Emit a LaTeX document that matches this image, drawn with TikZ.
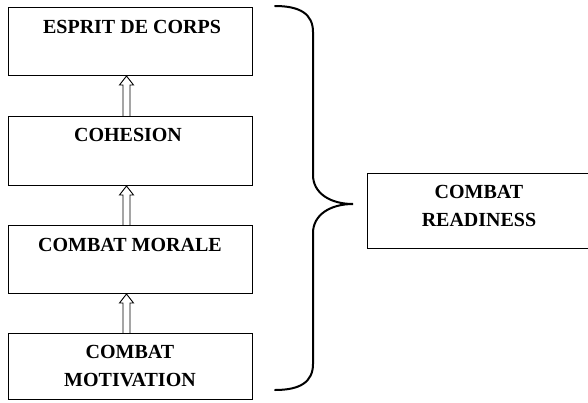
\documentclass[tikz,border=0pt]{standalone}
\usepackage{fontspec}
\setmainfont{Liberation Serif}
\usetikzlibrary{calc}
\tikzset{
  boxn/.style={draw, line width=1pt, rectangle, inner sep=0pt, anchor=north west},
  lbl/.style={font=\fontsize{20}{28}\selectfont\bfseries, align=center, inner sep=0pt},
  hollowarrow/.style={line width=0.9pt, line join=miter,
    to path={let \p1=(\tikztostart), \p2=(\tikztotarget) in
      ({\x1-3.5pt},{\y1}) -- ({\x1-3.5pt},{\y2-9pt}) -- ({\x1-7pt},{\y2-9pt}) -- ({\x1},{\y2})
      -- ({\x1+7pt},{\y2-9pt}) -- ({\x1+3.5pt},{\y2-9pt}) -- ({\x1+3.5pt},{\y1})}},
  bracepath/.style={line width=2pt, line cap=round}
}
\begin{document}
\begin{tikzpicture}[x=1pt,y=-1pt]
\useasboundingbox (0,0) rectangle (588,402);
\node[boxn, minimum width=244pt, minimum height=68pt] (b1) at (8,7) {};
\node[boxn, minimum width=244pt, minimum height=69pt] (b2) at (8,116) {};
\node[boxn, minimum width=244pt, minimum height=68pt] (b3) at (8,225) {};
\node[boxn, minimum width=244pt, minimum height=66pt] (b4) at (8,333) {};
\node[boxn, minimum width=220.5pt, minimum height=75pt] (r) at (367,173) {};
\node[lbl] (t1) at (132,27) {ESPRIT DE CORPS};
\node[lbl] (t2) at (128,135) {COHESION};
\node[lbl] (t3) at (130,245) {COMBAT MORALE};
\node[lbl] (t4) at (130,366) {COMBAT\\MOTIVATION};
\node[lbl] (tr) at (479,206) {COMBAT\\READINESS};
\draw[hollowarrow] ($(b2.north)+(-4,0)$) to ($(b1.south)+(-4,0)$);
\draw[hollowarrow] ($(b3.north)+(-4,0)$) to ($(b2.south)+(-4,0)$);
\draw[hollowarrow] ($(b4.north)+(-4,0)$) to ($(b3.south)+(-4,0)$);
\coordinate (btop) at (275,6);
\coordinate (bbot) at (275,390);
\coordinate (btip) at (353,204);
\draw[bracepath] (btop) .. controls (300,6) and (313,14) .. (313,32)
  -- (313,175) .. controls (313,193) and (330,204) .. (btip)
  .. controls (330,204) and (313,215) .. (313,233)
  -- (313,364) .. controls (313,382) and (300,390) .. (bbot);
\end{tikzpicture}
\end{document}
